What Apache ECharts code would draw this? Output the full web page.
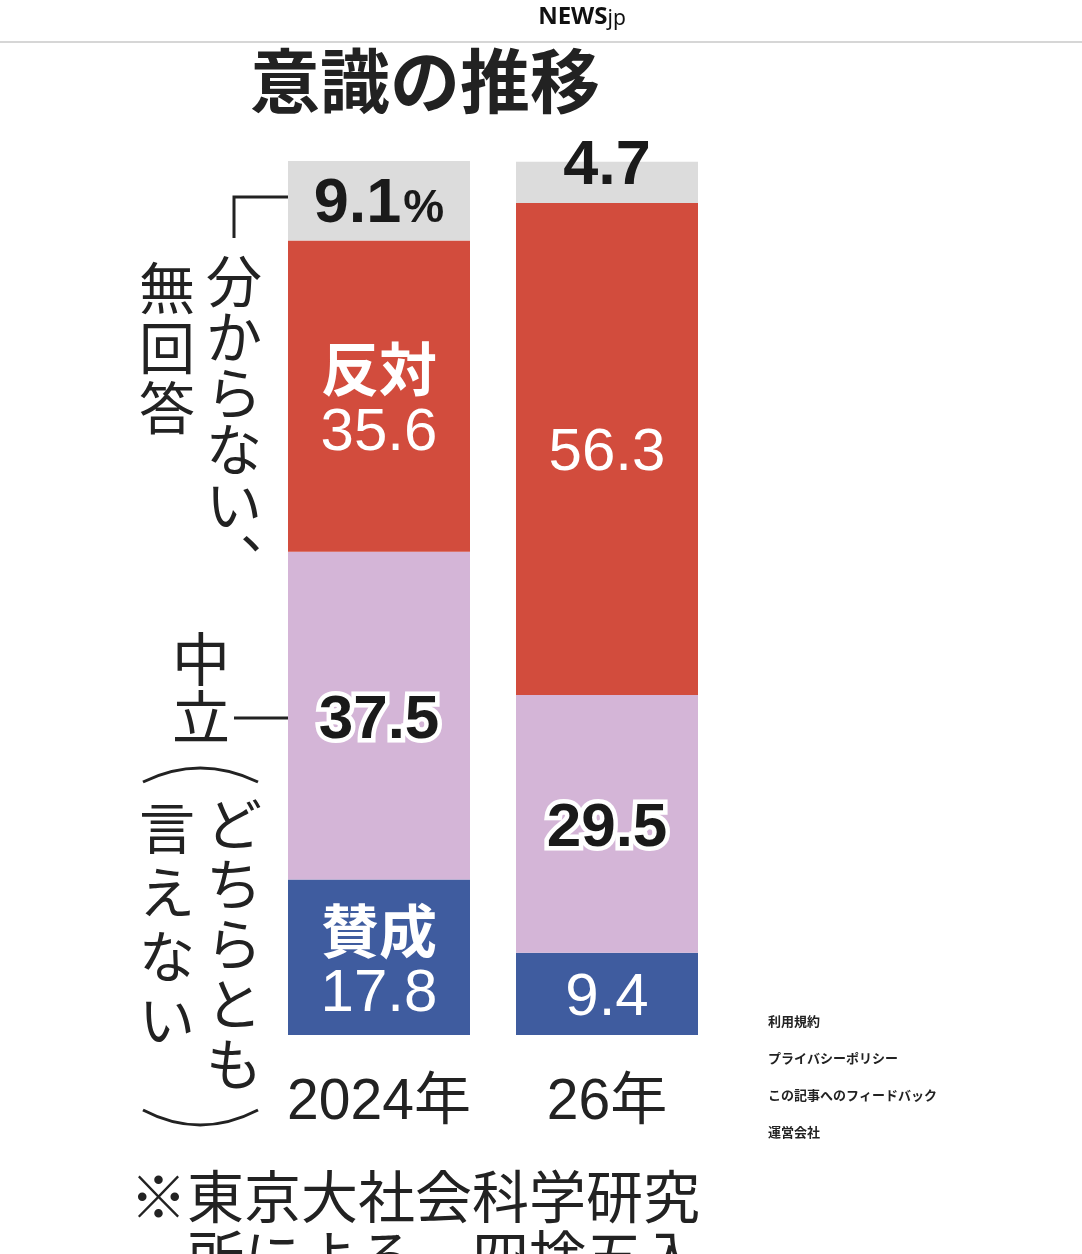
<!DOCTYPE html>
<html>
<head>
<meta charset="utf-8">
<script src="https://cdn.jsdelivr.net/npm/echarts@6/dist/echarts.min.js"></script>
<style>
  html, body { margin: 0; padding: 0; background: #fff; }
  #main { width: 1082px; height: 1254px; }
</style>
</head>
<body>
<div id="main"></div>
<script>
// 意識の推移 (%), bottom to top
var years = ['2024年', '26年'];
var agree = [17.8, 9.4];      // 賛成
var neutral = [37.5, 29.5];   // 中立
var oppose = [35.6, 56.3];    // 反対
var noAnswer = [9.1, 4.7];    // 分からない、無回答

var JP = '"Noto Sans CJK JP", "Noto Sans", sans-serif';
var NUM = '"Liberation Sans", "Noto Sans CJK JP", sans-serif';
var chart = echarts.init(document.getElementById('main'));

// 2024年 の赤と青は項目名も出す
function nameLabel(p) {
  if (p.dataIndex === 0) return '{n|' + p.seriesName + '}\n{v|' + p.value + '}';
  return '{v|' + p.value + '}';
}

var option = {
  backgroundColor: '#fff',
  animation: false,
  grid: { left: 265, top: 161, width: 456, height: 874 },
  xAxis: {
    type: 'category',
    data: years,
    axisLine: { show: false },
    axisTick: { show: false },
    axisLabel: {
      interval: 0,
      margin: 38,
      fontFamily: NUM,
      fontSize: 57,
      color: '#222',
      lineHeight: 60
    }
  },
  yAxis: {
    type: 'value',
    min: 0,
    max: 100,
    show: false
  },
  series: [
    {
      name: '賛成',
      type: 'bar',
      stack: 'total',
      barWidth: 182,
      data: agree,
      itemStyle: { color: '#3f5c9f' },
      label: {
        show: true,
        position: 'inside',
        offset: [0, 5],
        formatter: nameLabel,
        rich: {
          n: { fontFamily: JP, fontSize: 58, fontWeight: 'bold', color: '#fff', lineHeight: 64 },
          v: { fontFamily: NUM, fontSize: 60, color: '#fff', lineHeight: 62 }
        }
      }
    },
    {
      name: '中立',
      type: 'bar',
      stack: 'total',
      barWidth: 182,
      data: neutral,
      itemStyle: { color: '#d4b5d7' },
      label: {
        show: true,
        position: 'inside',
        offset: [0, 5],
        fontFamily: NUM,
        fontSize: 62,
        fontWeight: 'bold',
        color: '#1a1a1a',
        textBorderColor: '#fff',
        textBorderWidth: 9
      }
    },
    {
      name: '反対',
      type: 'bar',
      stack: 'total',
      barWidth: 182,
      data: oppose,
      itemStyle: { color: '#d24c3d' },
      label: {
        show: true,
        position: 'inside',
        offset: [0, 4],
        formatter: nameLabel,
        rich: {
          n: { fontFamily: JP, fontSize: 58, fontWeight: 'bold', color: '#fff', lineHeight: 66 },
          v: { fontFamily: NUM, fontSize: 60, color: '#fff', lineHeight: 62 }
        }
      }
    },
    {
      name: '無回答',
      type: 'bar',
      stack: 'total',
      barWidth: 182,
      data: noAnswer.map(function (v, i) {
        // 26年 は値を棒の上端に重ねる
        return i === 1 ? { value: v, label: { offset: [0, -16] } } : v;
      }),
      itemStyle: { color: '#dcdcdc' },
      label: {
        show: true,
        position: 'inside',
        offset: [0, 4],
        formatter: function (p) {
          return p.dataIndex === 0 ? '{v|' + p.value + '}{p|%}' : '{v|' + p.value + '}';
        },
        rich: {
          v: { fontFamily: NUM, fontSize: 63, fontWeight: 'bold', color: '#1a1a1a' },
          p: { fontFamily: NUM, fontSize: 46, fontWeight: 'bold', color: '#1a1a1a', padding: [10, 0, 0, 2] }
        }
      }
    }
  ],
  graphic: [
    // ヘッダー
    { type: 'rect', shape: { x: 0, y: 41, width: 1082, height: 2 }, style: { fill: '#d6d6d6' } },
    {
      type: 'text', x: 582, y: 17,
      style: {
        text: '{a|NEWS}{b|jp}', align: 'center', verticalAlign: 'middle',
        rich: {
          a: { fontFamily: '"Noto Sans", sans-serif', fontSize: 24, fontWeight: 'bold', fill: '#111' },
          b: { fontFamily: '"Noto Sans", sans-serif', fontSize: 21, fill: '#111', padding: [4, 0, 0, 0] }
        }
      }
    },
    // タイトル
    {
      type: 'text', x: 425, y: 81,
      style: { text: '意識の推移', fontFamily: JP, fontSize: 70, fontWeight: 'bold', fill: '#222', align: 'center', verticalAlign: 'middle' }
    },
    // 分からない、無回答
    { type: 'polyline', shape: { points: [[288, 197], [234, 197], [234, 238]] }, style: { stroke: '#222', lineWidth: 3, fill: null } },
    {
      type: 'text', x: 234, y: 253,
      style: { text: '分\nか\nら\nな\nい\n︑', fontFamily: JP, fontSize: 56, lineHeight: 56, fill: '#222', align: 'center', verticalAlign: 'top' }
    },
    {
      type: 'text', x: 167, y: 258,
      style: { text: '無\n回\n答', fontFamily: JP, fontSize: 56, lineHeight: 60, fill: '#222', align: 'center', verticalAlign: 'top' }
    },
    // 中立（どちらとも言えない）
    {
      type: 'text', x: 201, y: 630,
      style: { text: '中\n立', fontFamily: JP, fontSize: 58, lineHeight: 58, fill: '#222', align: 'center', verticalAlign: 'top' }
    },
    { type: 'line', shape: { x1: 234, y1: 718, x2: 288, y2: 718 }, style: { stroke: '#222', lineWidth: 3 } },
    { type: 'bezierCurve', shape: { x1: 143, y1: 782, x2: 258, y2: 782, cpx1: 200, cpy1: 754 }, style: { stroke: '#222', lineWidth: 3, fill: null } },
    {
      type: 'text', x: 234, y: 794,
      style: { text: 'ど\nち\nら\nと\nも', fontFamily: JP, fontSize: 56, lineHeight: 60, fill: '#222', align: 'center', verticalAlign: 'top' }
    },
    {
      type: 'text', x: 167, y: 796,
      style: { text: '言\nえ\nな\nい', fontFamily: JP, fontSize: 56, lineHeight: 64, fill: '#222', align: 'center', verticalAlign: 'top' }
    },
    { type: 'bezierCurve', shape: { x1: 143, y1: 1110, x2: 258, y2: 1110, cpx1: 200, cpy1: 1140 }, style: { stroke: '#222', lineWidth: 3, fill: null } },
    // 注記
    {
      type: 'text', x: 130, y: 1166,
      style: { text: '※東京大社会科学研究\n　所による。四捨五入', fontFamily: JP, fontSize: 57, lineHeight: 60, fill: '#222', align: 'left', verticalAlign: 'top' }
    },
    // 右側のリンク
    { type: 'text', x: 768, y: 1021, style: { text: '利用規約', fontFamily: JP, fontSize: 13, fontWeight: 'bold', fill: '#222', verticalAlign: 'middle' } },
    { type: 'text', x: 768, y: 1058, style: { text: 'プライバシーポリシー', fontFamily: JP, fontSize: 13, fontWeight: 'bold', fill: '#222', verticalAlign: 'middle' } },
    { type: 'text', x: 768, y: 1095, style: { text: 'この記事へのフィードバック', fontFamily: JP, fontSize: 13, fontWeight: 'bold', fill: '#222', verticalAlign: 'middle' } },
    { type: 'text', x: 768, y: 1132, style: { text: '運営会社', fontFamily: JP, fontSize: 13, fontWeight: 'bold', fill: '#222', verticalAlign: 'middle' } }
  ]
};

chart.setOption(option);
</script>
</body>
</html>
